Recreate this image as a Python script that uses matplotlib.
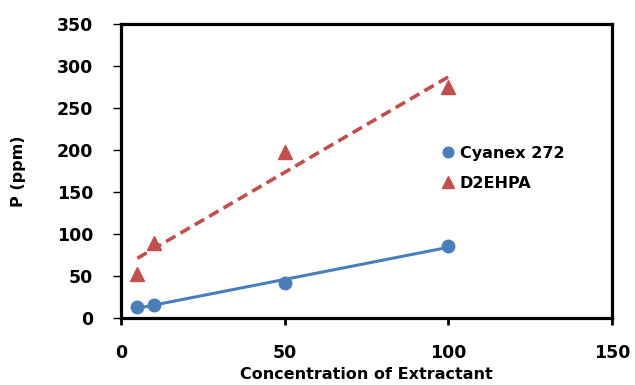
import numpy as np
import matplotlib.pyplot as plt

# extractant concentration and P in raffinate (ppm)
conc = [5, 10, 50, 100]
cyanex_p = [13, 16, 42, 86]
d2ehpa_p = [52, 89, 198, 275]

blue = '#4a7ebb'
red = '#c0504d'

fig = plt.figure(figsize=(6.35, 3.85), dpi=100)
ax = fig.add_axes([0.1906, 0.174, 0.7732, 0.7637])

ax.plot(conc, cyanex_p, 'o', color=blue, markersize=9, label='Cyanex 272', zorder=3)
ax.plot(conc, d2ehpa_p, '^', color=red, markersize=10, label='D2EHPA', zorder=3)

# linear trend lines over the measured range
x = np.array(conc, dtype=float)
xs = np.array([x.min(), x.max()])
k, b = np.polyfit(x, cyanex_p, 1)
ax.plot(xs, k * xs + b, '-', color=blue, lw=2.2)
k, b = np.polyfit(x, d2ehpa_p, 1)
ax.plot(xs, k * xs + b, '--', color=red, lw=2.6, dashes=(3, 1.6))

ax.set_xlim(0, 150)
ax.set_ylim(0, 350)
ax.set_xticks([0, 50, 100, 150])
ax.set_yticks(range(0, 351, 50))

for s in ax.spines.values():
    s.set_linewidth(2.3)

ax.tick_params(axis='y', direction='out', length=6, width=1, pad=14, labelsize=12.5)
ax.tick_params(axis='x', direction='out', length=5, width=2, pad=14, labelsize=12.5)
for t in ax.get_xticklabels() + ax.get_yticklabels():
    t.set_fontweight('bold')

ax.set_xlabel('Concentration of Extractant', fontsize=11.5, fontweight='bold', labelpad=3)
ax.set_ylabel('P (ppm)', fontsize=11.5, fontweight='bold', labelpad=22)

leg = ax.legend(loc='upper left', bbox_to_anchor=(0.625, 0.635), frameon=False,
                handlelength=0.7, handletextpad=0.4, labelspacing=0.95,
                markerscale=0.85, prop={'weight': 'bold', 'size': 11.5})

fig.savefig('out.png', dpi=100)
